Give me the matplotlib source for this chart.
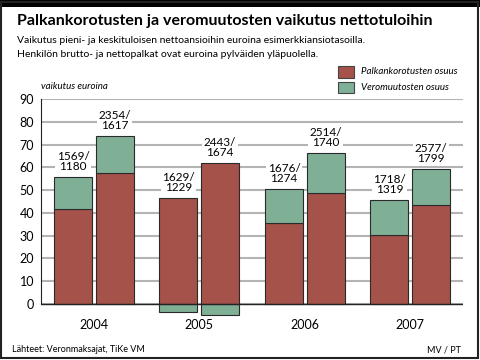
import matplotlib
matplotlib.use("Agg")
import matplotlib.pyplot as plt
from matplotlib.patches import Rectangle
import numpy as np

# =========================
# data
# =========================
YEARS = ["2004", "2005", "2006", "2007"]

# pieni- ja keskituloinen (vasen / oikea pylväs)
PALKKA_LOW = [41.6, 46.5, 35.4, 30.2]
VERO_LOW = [14.3, -3.7, 15.2, 15.3]
PALKKA_MID = [57.4, 61.8, 48.6, 43.3]
VERO_MID = [16.5, -5.0, 17.7, 15.8]

LABEL_LOW = ["1569/\n1180", "1629/\n1229", "1676/\n1274", "1718/\n1319"]
LABEL_MID = ["2354/\n1617", "2443/\n1674", "2514/\n1740", "2577/\n1799"]

RED = "#a5524a"
GREEN = "#7fb096"
GRID = "#b4b4b4"

plt.rcParams["font.family"] = ["Lato", "DejaVu Sans"]

fig = plt.figure(figsize=(4.8, 3.6), dpi=100)

# frame
fig.patches.append(Rectangle((0, 0.98), 1, 0.02, transform=fig.transFigure,
                             facecolor="black", edgecolor="none"))
fig.patches.append(Rectangle((0.003, 0.005), 0.992, 0.99, transform=fig.transFigure,
                             facecolor="none", edgecolor="#222222", linewidth=1.5))

fig.text(0.035, 0.96, "Palkankorotusten ja veromuutosten vaikutus nettotuloihin",
         fontsize=11.5, fontweight="bold", va="top", ha="left")
fig.text(0.035, 0.899, "Vaikutus pieni- ja keskituloisen nettoansioihin euroina esimerkkiansiotasoilla.",
         fontsize=7.5, va="top", ha="left")
fig.text(0.035, 0.860, "Henkilön brutto- ja nettopalkat ovat euroina pylväiden yläpuolella.",
         fontsize=7.5, va="top", ha="left")

ax = fig.add_axes([41 / 480, 0.105, (463 - 41) / 480, 0.62])
x = np.arange(len(YEARS))
w = 0.36
off = 0.197

for xs, palkka, vero, labels in [(x - off, PALKKA_LOW, VERO_LOW, LABEL_LOW),
                                 (x + off, PALKKA_MID, VERO_MID, LABEL_MID)]:
    ax.bar(xs, palkka, w, color=RED, edgecolor="#2a2a2a", linewidth=0.8, zorder=3)
    vero = np.array(vero)
    bottom = np.where(vero > 0, palkka, 0)
    ax.bar(xs, vero, w, bottom=bottom, color=GREEN, edgecolor="#2a2a2a",
           linewidth=0.8, zorder=3)
    tops = np.array(palkka) + np.where(vero > 0, vero, 0)
    for xi, t, lab in zip(xs, tops, labels):
        ax.text(xi, t + 2.2, lab, ha="center", va="bottom", fontsize=8.5,
                linespacing=0.9, zorder=4,
                bbox=dict(facecolor="white", edgecolor="none", pad=1.0))

ax.set_xlim(-0.5, 3.5)
ax.set_ylim(-8, 90)
ax.set_yticks(range(0, 91, 10))
ax.set_xticks(x)
ax.set_xticklabels(YEARS)
ax.tick_params(length=0, labelsize=9)
ax.tick_params(axis="x", pad=-2)
ax.tick_params(axis="y", pad=5)
for s in ["top", "right", "bottom"]:
    ax.spines[s].set_visible(False)
ax.spines["left"].set_bounds(0, 90)
ax.spines["left"].set_color("#222222")
ax.grid(axis="y", color=GRID, linewidth=1.5, zorder=0)
ax.axhline(0, color="#222222", linewidth=1.0, zorder=5)
ax.set_axisbelow(True)

ax.text(0.0, 1.035, "vaikutus euroina", transform=ax.transAxes, fontsize=7,
        style="italic", ha="left", va="bottom")

# legend
fig.patches.append(Rectangle((338 / 480, 1 - 78 / 360), 16 / 480, 12 / 360,
                             transform=fig.transFigure, facecolor=RED,
                             edgecolor="#444444", linewidth=0.8))
fig.patches.append(Rectangle((338 / 480, 1 - 93 / 360), 16 / 480, 11 / 360,
                             transform=fig.transFigure, facecolor=GREEN,
                             edgecolor="#444444", linewidth=0.8))
fig.text(361 / 480, 1 - 72 / 360, "Palkankorotusten osuus", fontsize=7,
         style="italic", va="center")
fig.text(361 / 480, 1 - 88 / 360, "Veromuutosten osuus", fontsize=7,
         style="italic", va="center")

fig.text(0.025, 0.016, "Lähteet: Veronmaksajat, TiKe VM", fontsize=6.5, va="bottom")
fig.text(0.96, 0.016, "MV / PT", fontsize=6.5, va="bottom", ha="right")

fig.savefig("out.png", dpi=100)
